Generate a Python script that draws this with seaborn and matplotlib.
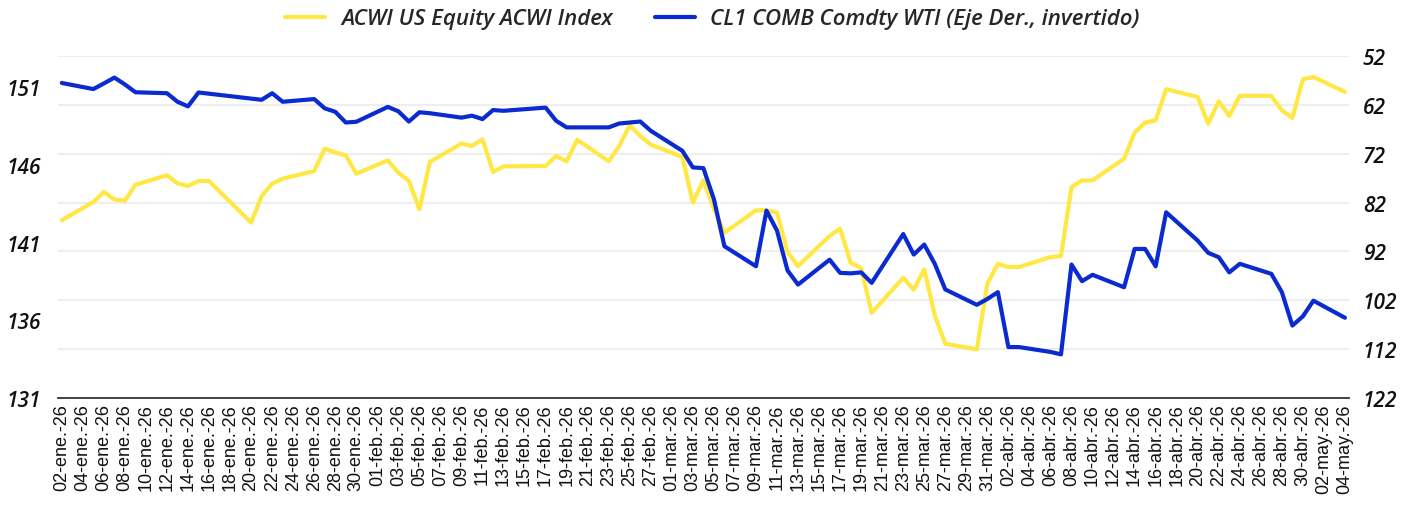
import matplotlib
matplotlib.use("Agg")
import matplotlib.pyplot as plt
import seaborn as sns
import pandas as pd
import numpy as np

# Serie diaria (dias habiles)
fechas = [
    "2026-01-02", "2026-01-05", "2026-01-06", "2026-01-07", "2026-01-08", "2026-01-09",
    "2026-01-12", "2026-01-13", "2026-01-14", "2026-01-15", "2026-01-16",
    "2026-01-20", "2026-01-21", "2026-01-22", "2026-01-23",
    "2026-01-26", "2026-01-27", "2026-01-28", "2026-01-29", "2026-01-30",
    "2026-02-02", "2026-02-03", "2026-02-04", "2026-02-05", "2026-02-06",
    "2026-02-09", "2026-02-10", "2026-02-11", "2026-02-12", "2026-02-13",
    "2026-02-17", "2026-02-18", "2026-02-19", "2026-02-20",
    "2026-02-23", "2026-02-24", "2026-02-25", "2026-02-26", "2026-02-27",
    "2026-03-02", "2026-03-03", "2026-03-04", "2026-03-05", "2026-03-06",
    "2026-03-09", "2026-03-10", "2026-03-11", "2026-03-12", "2026-03-13",
    "2026-03-16", "2026-03-17", "2026-03-18", "2026-03-19", "2026-03-20",
    "2026-03-23", "2026-03-24", "2026-03-25", "2026-03-26", "2026-03-27",
    "2026-03-30", "2026-03-31", "2026-04-01", "2026-04-02", "2026-04-03",
    "2026-04-06", "2026-04-07", "2026-04-08", "2026-04-09", "2026-04-10",
    "2026-04-13", "2026-04-14", "2026-04-15", "2026-04-16", "2026-04-17",
    "2026-04-20", "2026-04-21", "2026-04-22", "2026-04-23", "2026-04-24",
    "2026-04-27", "2026-04-28", "2026-04-29", "2026-04-30", "2026-05-01",
    "2026-05-04",
]

acwi = [
    142.43, 143.61, 144.25, 143.78, 143.69, 144.72,
    145.33, 144.81, 144.64, 144.96, 144.96,
    142.28, 143.99, 144.79, 145.11,
    145.60, 147.04, 146.79, 146.61, 145.43,
    146.29, 145.50, 144.96, 143.14, 146.19,
    147.37, 147.22, 147.64, 145.54, 145.90,
    145.93, 146.57, 146.23, 147.62,
    146.23, 147.22, 148.55, 147.86, 147.30,
    146.51, 143.57, 145.00, 143.18, 141.63,
    143.07, 143.07, 142.92, 140.39, 139.48,
    141.42, 141.89, 139.70, 139.36, 136.47,
    138.73, 137.96, 139.27, 136.31, 134.48,
    134.12, 138.35, 139.63, 139.42, 139.42,
    140.06, 140.13, 144.57, 145.00, 145.00,
    146.40, 148.08, 148.72, 148.87, 150.87,
    150.37, 148.65, 150.09, 149.15, 150.44,
    150.44, 149.51, 149.02, 151.51, 151.66,
    150.70,
]

wti = [
    57.5, 58.75, 57.6, 56.4, 57.8, 59.4,
    59.6, 61.35, 62.3, 59.45, 59.7,
    60.7, 60.95, 59.6, 61.35,
    60.8, 62.7, 63.4, 65.6, 65.45,
    62.4, 63.3, 65.4, 63.5, 63.7,
    64.6, 64.2, 64.9, 63.05, 63.2,
    62.55, 65.25, 66.6, 66.6,
    66.6, 65.8, 65.6, 65.4, 67.3,
    71.4, 74.8, 74.95, 81.3, 90.95,
    95.05, 83.65, 87.75, 95.9, 98.8,
    93.7, 96.4, 96.5, 96.3, 98.45,
    88.45, 92.65, 90.6, 94.55, 99.8,
    102.95, 101.75, 100.35, 111.6, 111.6,
    112.6, 113.1, 94.7, 98.1, 96.8,
    99.35, 91.5, 91.5, 95.05, 84.0,
    89.8, 92.3, 93.2, 96.3, 94.55,
    96.6, 100.35, 107.2, 105.3, 102.1,
    105.6,
]

meses = ["ene", "feb", "mar", "abr", "may"]
nombre_acwi = "ACWI US Equity ACWI Index"
nombre_wti = "CL1 COMB Comdty WTI (Eje Der., invertido)"

df = pd.DataFrame({"fecha": pd.to_datetime(fechas), "acwi": acwi, "wti": wti})

amarillo = "#FFE845"
azul = "#0B2BD0"

sns.set_style("white")
plt.rcParams["font.family"] = ["Liberation Sans", "DejaVu Sans"]

fig, ax1 = plt.subplots(figsize=(14.11, 5.10), dpi=100)
fig.subplots_adjust(left=0.041, right=0.956, bottom=0.218, top=0.888)

sns.lineplot(data=df, x="fecha", y="acwi", ax=ax1, color=amarillo, linewidth=3.0,
             label=nombre_acwi, legend=False)
ax2 = ax1.twinx()
sns.lineplot(data=df, x="fecha", y="wti", ax=ax2, color=azul, linewidth=3.0,
             label=nombre_wti, legend=False)

# ejes
izq_lo, izq_hi = 131, 153
der_lo, der_hi = 52, 122
ax1.set_ylim(izq_lo, izq_hi)
ax2.set_ylim(der_hi, der_lo)
ax1.set_yticks(np.arange(131, 152, 5))
der_ticks = np.arange(der_lo, der_hi + 1, 10)
ax2.set_yticks(der_ticks)

# lineas de grilla alineadas con el eje derecho, dibujadas bajo las series
grid_pos = izq_lo + (der_hi - der_ticks) / (der_hi - der_lo) * (izq_hi - izq_lo)
ax1.set_yticks(grid_pos, minor=True)
ax1.grid(False)
ax2.grid(False)
ax1.grid(True, which="minor", axis="y", color="#EDEDED", linewidth=1.3)
ax1.set_axisbelow(True)

xt = pd.date_range("2026-01-02", "2026-05-04", freq="2D")
ax1.set_xticks(xt)
ax1.set_xticklabels([f"{d.day:02d}-{meses[d.month - 1]}.-{d:%y}" for d in xt],
                    rotation=90, fontsize=13, color="#111111")
ax1.set_xlim(df["fecha"].iloc[0] - pd.Timedelta(hours=9),
             df["fecha"].iloc[-1] + pd.Timedelta(hours=9))

for ax in (ax1, ax2):
    ax.set_xlabel("")
    ax.set_ylabel("")
    for s in ("top", "left", "right"):
        ax.spines[s].set_visible(False)
    ax.tick_params(axis="both", which="both", length=0)
ax2.spines["bottom"].set_visible(False)
ax1.spines["bottom"].set_color("#333333")
ax1.spines["bottom"].set_linewidth(1.3)
ax1.tick_params(axis="x", pad=4)
ax1.tick_params(axis="y", pad=12)
ax2.tick_params(axis="y", pad=10)

for lab in ax1.get_yticklabels() + ax2.get_yticklabels():
    lab.set_fontfamily(["Open Sans", "DejaVu Sans"])
    lab.set_fontstyle("italic")
    lab.set_fontweight("semibold")
    lab.set_fontsize(15)
    lab.set_color("#111111")

handles = [ax1.get_lines()[0], ax2.get_lines()[0]]
fig.legend(handles, [nombre_acwi, nombre_wti], loc="center", bbox_to_anchor=(0.505, 0.961),
           ncol=2, frameon=False, handlelength=1.8, handletextpad=0.7, columnspacing=1.9,
           prop={"family": ["Open Sans", "DejaVu Sans"], "style": "italic",
                 "weight": "semibold", "size": 16})

fig.savefig("out.png", dpi=100)
